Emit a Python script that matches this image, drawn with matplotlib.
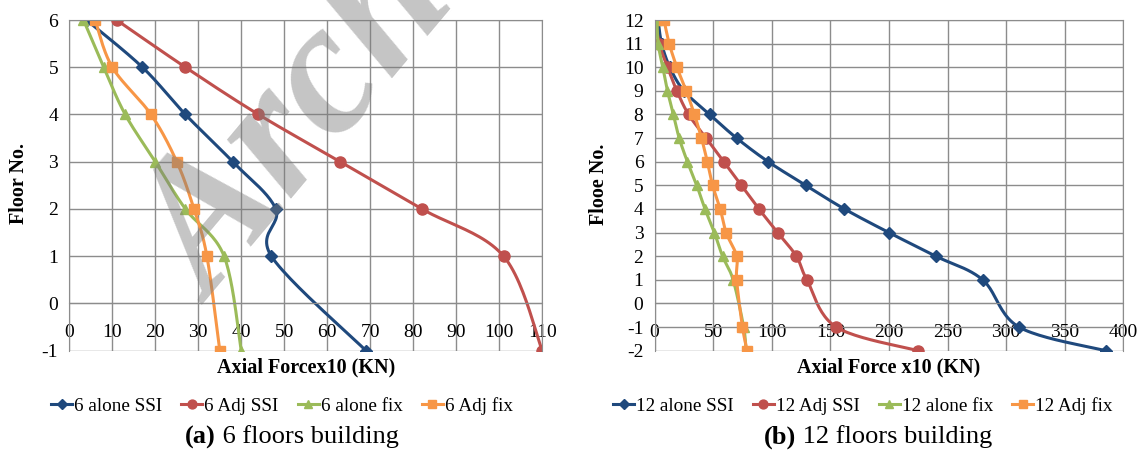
import numpy as np
import matplotlib
matplotlib.use("Agg")
import matplotlib.pyplot as plt

plt.rcParams['font.family'] = ['Liberation Serif', 'DejaVu Serif']
plt.rcParams['axes.unicode_minus'] = False

# ---- data: 6 floors building ----
floors6 = [6, 5, 4, 3, 2, 1, -1]
alone_ssi_6 = [4, 17, 27, 38, 48, 47, 69]
adj_ssi_6 = [11, 27, 44, 63, 82, 101, 110]
alone_fix_6 = [3.3, 8, 13, 20, 27, 36, 40]
adj_fix_6 = [6, 10, 19, 25, 29, 32, 35]

# ---- data: 12 floors building ----
floors12 = [12, 11, 10, 9, 8, 7, 6, 5, 4, 3, 2, 1, -1, -2]
alone_ssi_12 = [3, 6, 13, 25, 47, 70, 97, 129, 162, 200, 240, 280, 311, 385]
adj_ssi_12 = [1, 4, 11, 19, 29, 44, 59, 74, 89, 105, 121, 130, 155, 225]
alone_fix_12 = [2, 3, 7, 11, 16, 21, 28, 36, 43, 51, 58, 67, 76, 78]
adj_fix_12 = [8, 12.5, 19, 27, 34, 40, 45, 49.5, 56, 61, 70, 70, 75, 79]

labels6 = ['6 alone SSI', '6 Adj SSI', '6 alone fix', '6 Adj fix']
labels12 = ['12 alone SSI', '12 Adj SSI', '12 alone fix', '12 Adj fix']

colors = ['#1F497D', '#C0504D', '#9BBB59', '#F79646']
markers = ['D', 'o', '^', 's']
msizes = [6, 8, 7.5, 7.5]
grid_c = '#8c8c8c'


def smooth(x, y, n=25):
    # Excel-like smoothed line (bezier through the points)
    P = np.column_stack([x, y]).astype(float)
    pts = np.vstack([P[0], P, P[-1]])
    segs = []
    t = np.linspace(0, 1, n)[:, None]
    for i in range(1, len(pts) - 2):
        p0, p1, p2, p3 = pts[i - 1], pts[i], pts[i + 1], pts[i + 2]
        c1 = p1 + (p2 - p0) / 6
        c2 = p2 - (p3 - p1) / 6
        segs.append((1 - t) ** 3 * p1 + 3 * (1 - t) ** 2 * t * c1
                    + 3 * (1 - t) * t ** 2 * c2 + t ** 3 * p2)
    s = np.vstack(segs)
    return s[:, 0], s[:, 1]


def draw(ax, floors, series, labels, xmax, xstep, ymin, ymax, xlabel):
    handles = []
    for vals, c, m, ms, lab in zip(series, colors, markers, msizes, labels):
        sx, sy = smooth(vals, floors)
        ax.plot(sx, sy, color=c, lw=2.2, solid_capstyle='round')
        ax.plot(vals, floors, ls='none', marker=m, ms=ms, color=c)
        h, = ax.plot([], [], color=c, lw=2.2, marker=m, ms=ms * 0.8)
        handles.append(h)
    ax.set_xlim(0, xmax)
    ax.set_ylim(ymin, ymax)
    ax.set_xticks(np.arange(0, xmax + 1, xstep))
    ax.set_yticks(np.arange(ymin, ymax + 1, 1))
    ax.grid(True, color=grid_c, lw=1.0)
    ax.set_axisbelow(True)
    for s in ['top', 'right', 'left']:
        ax.spines[s].set_color(grid_c)
    ax.spines['bottom'].set_position(('data', 0))
    ax.spines['bottom'].set_color(grid_c)
    ax.tick_params(axis='x', length=0, pad=15, labelsize=14)
    ax.tick_params(axis='y', length=0, pad=8, labelsize=14)
    ax.set_xlabel(xlabel, fontsize=14.5, fontweight='bold')
    ax.xaxis.set_label_coords(0.5, -0.02)
    return handles


fig = plt.figure(figsize=(11.4, 4.55), dpi=100)
H = 455.0
W = 1140.0
ax1 = fig.add_axes([69.3 / W, 1 - 350.7 / H, 473 / W, 330.7 / H])
ax2 = fig.add_axes([654.6 / W, 1 - 350.7 / H, 468.7 / W, 330.7 / H])

h1 = draw(ax1, floors6, [alone_ssi_6, adj_ssi_6, alone_fix_6, adj_fix_6],
          labels6, 110, 10, -1, 6, 'Axial Forcex10 (KN)')
h2 = draw(ax2, floors12, [alone_ssi_12, adj_ssi_12, alone_fix_12, adj_fix_12],
          labels12, 400, 50, -2, 12, 'Axial Force x10 (KN)')

fig.text(19 / W, 1 - 184 / H, 'Floor No.', rotation=90, fontsize=14.5,
         fontweight='bold', ha='center', va='center')
fig.text(599 / W, 1 - 184 / H, 'Flooe No.', rotation=90, fontsize=14.5,
         fontweight='bold', ha='center', va='center')

legkw = dict(loc='center', ncol=4, frameon=False, fontsize=13.8,
             handlelength=1.1, handletextpad=0.1, columnspacing=1.0)
fig.legend(h1, labels6, bbox_to_anchor=(282 / W, 1 - 406 / H), **legkw)
fig.legend(h2, labels12, bbox_to_anchor=(863 / W, 1 - 406 / H), **legkw)

# captions: bold label + regular text, placed side by side
renderer = fig.canvas.get_renderer()
for tag, rest, x0 in [('(a)', ' 6 floors building', 185), ('(b)', ' 12 floors building', 764)]:
    t1 = fig.text(x0 / W, 1 - 437 / H, tag, fontsize=19, fontweight='bold',
                  ha='left', va='center')
    bb = t1.get_window_extent(renderer=renderer)
    fig.text(bb.x1 / W, 1 - 437 / H, rest, fontsize=19, ha='left', va='center')

# watermark
fig.text(212 / W, 1 - 305 / H, 'Archive', rotation=50, rotation_mode='anchor',
         ha='left', va='baseline', fontsize=136, fontweight='bold', style='italic',
         color='#7b7b7b', alpha=0.44, zorder=10)

fig.savefig('out.png', dpi=100)
